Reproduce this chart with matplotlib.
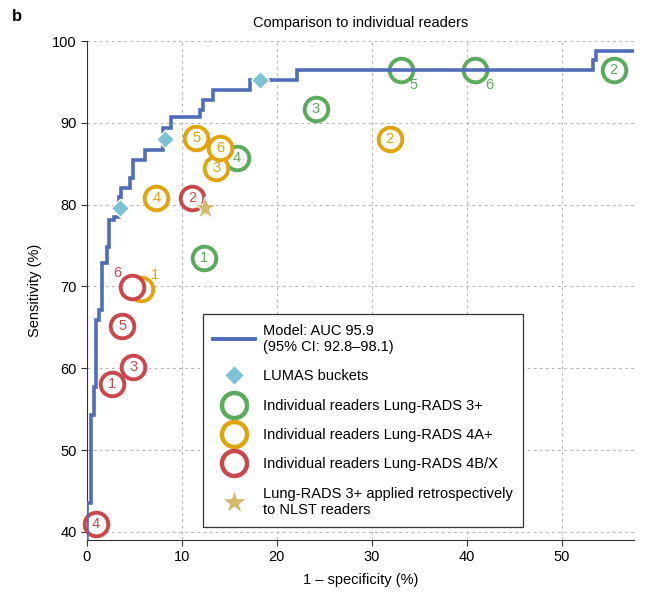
import matplotlib
matplotlib.use("Agg")
import matplotlib.pyplot as plt
from matplotlib.lines import Line2D

plt.rcParams['font.family'] = ['Liberation Sans', 'DejaVu Sans']

# model ROC (step corners: x of each vertical rise, height reached)
roc_fpr = [0, 0, 0.4, 0.7, 0.9, 1.0, 1.25, 1.6, 2.1, 2.3, 2.8, 3.4, 3.6, 4.5, 4.8,
           6.1, 8.0, 8.9, 11.9, 12.2, 13.3, 17.2, 22.1, 53.3, 53.6, 57.6]
roc_tpr = [39, 43.5, 54.3, 57.7, 61.4, 65.9, 67.1, 72.9, 74.8, 78.1, 78.5, 80.9, 82.0,
           83.3, 85.5, 86.7, 89.4, 90.7, 91.6, 92.8, 94.0, 95.2, 96.5, 97.7, 98.8, 98.8]

lumas_x = [3.5, 8.2, 18.2]
lumas_y = [79.6, 88.0, 95.2]

# readers: id, 1-specificity, sensitivity
green_id = ['1', '2', '3', '4', '5', '6']
green_x = [12.3, 55.5, 24.1, 15.8, 33.1, 40.9]
green_y = [73.5, 96.5, 91.7, 85.7, 96.5, 96.5]

orange_id = ['1', '2', '3', '4', '5', '6']
orange_x = [5.7, 31.9, 13.6, 7.3, 11.5, 14.0]
orange_y = [69.7, 88.0, 84.5, 80.8, 88.1, 86.9]

red_id = ['1', '2', '3', '4', '5', '6']
red_x = [2.6, 11.1, 4.9, 0.9, 3.7, 4.7]
red_y = [58.1, 80.8, 60.1, 41.0, 65.2, 69.9]

star_x = [12.4]
star_y = [79.6]

c_line = '#4f6db8'
c_green = '#5aab5c'
c_orange = '#e2a40c'
c_red = '#cc474b'
c_diam = '#7cc1d5'
c_star = '#d4b86c'

# labels placed outside the ring (offset in points)
outside = {('g', '5'): (9, -11), ('g', '6'): (10, -11),
           ('o', '1'): (10, 10), ('r', '6'): (-10, 10)}

fig = plt.figure(figsize=(6.54, 5.99), dpi=100)
ax = fig.add_axes([0.133, 0.0985, 0.836, 0.833])

ms = 17
mew = 2.8
fs = 10.5
groups = [('g', green_id, green_x, green_y, c_green),
          ('o', orange_id, orange_x, orange_y, c_orange),
          ('r', red_id, red_x, red_y, c_red)]
z = 3
for key, ids, xs, ys, col in groups:
    for i, x, y in zip(ids, xs, ys):
        ax.plot(x, y, 'o', ms=ms, mfc='white', mec=col, mew=mew, zorder=z, clip_on=False)
        if (key, i) in outside:
            dx, dy = outside[(key, i)]
            ax.annotate(i, (x, y), xytext=(dx, dy), textcoords='offset points',
                        ha='center', va='center', fontsize=fs, color=col, zorder=z)
        else:
            ax.text(x, y, i, ha='center', va='center', fontsize=fs, color=col, zorder=z + 0.1)
        z += 0.2

ax.plot(roc_fpr, roc_tpr, drawstyle='steps-post', color=c_line, lw=2.6, zorder=10,
        solid_joinstyle='miter')
ax.plot(lumas_x, lumas_y, 'D', ms=9, color=c_diam, mec='white', mew=1, zorder=11)
ax.plot(star_x, star_y, '*', ms=17, color=c_star, mec='white', mew=0.8, zorder=12)

ax.set_xlim(0, 57.6)
ax.set_ylim(39, 100)
ax.set_xticks([0, 10, 20, 30, 40, 50])
ax.set_yticks([40, 50, 60, 70, 80, 90, 100])
ax.grid(True, linestyle=(0, (2.5, 3)), color='#b5b5b5', lw=0.8)
ax.set_axisbelow(True)
for s in ['top', 'right']:
    ax.spines[s].set_visible(False)
for s in ['left', 'bottom']:
    ax.spines[s].set_color('#333333')
ax.spines['left'].set_bounds(39, 100)
ax.tick_params(labelsize=fs, length=4, color='#333333')
ax.set_xlabel('1 – specificity (%)', fontsize=fs, labelpad=6)
ax.set_ylabel('Sensitivity (%)', fontsize=fs, labelpad=7)
ax.set_title('Comparison to individual readers', fontsize=fs, pad=10)
fig.text(0.018, 0.965, 'b', fontsize=12, fontweight='bold')

handles = [
    Line2D([], [], color=c_line, lw=2.8),
    Line2D([], [], marker='D', ls='', ms=10, color=c_diam, mec='white'),
    Line2D([], [], marker='o', ls='', ms=ms + 1, mfc='white', mec=c_green, mew=mew + 0.4),
    Line2D([], [], marker='o', ls='', ms=ms + 1, mfc='white', mec=c_orange, mew=mew + 0.4),
    Line2D([], [], marker='o', ls='', ms=ms + 1, mfc='white', mec=c_red, mew=mew + 0.4),
    Line2D([], [], marker='*', ls='', ms=19, color=c_star, mec='white'),
]
labels = ['Model: AUC 95.9\n(95% CI: 92.8–98.1)', 'LUMAS buckets',
          'Individual readers Lung-RADS 3+', 'Individual readers Lung-RADS 4A+',
          'Individual readers Lung-RADS 4B/X',
          'Lung-RADS 3+ applied retrospectively\nto NLST readers']
leg = ax.legend(handles, labels, loc='lower left', bbox_to_anchor=(0.212, 0.026),
                fontsize=fs, frameon=True, fancybox=False, edgecolor='#333333',
                framealpha=1, handlelength=2.9, labelspacing=1.05, borderpad=0.7,
                handletextpad=0.55, borderaxespad=0)
leg.get_frame().set_linewidth(0.9)
leg.set_zorder(20)

fig.savefig('out.png', dpi=100)
